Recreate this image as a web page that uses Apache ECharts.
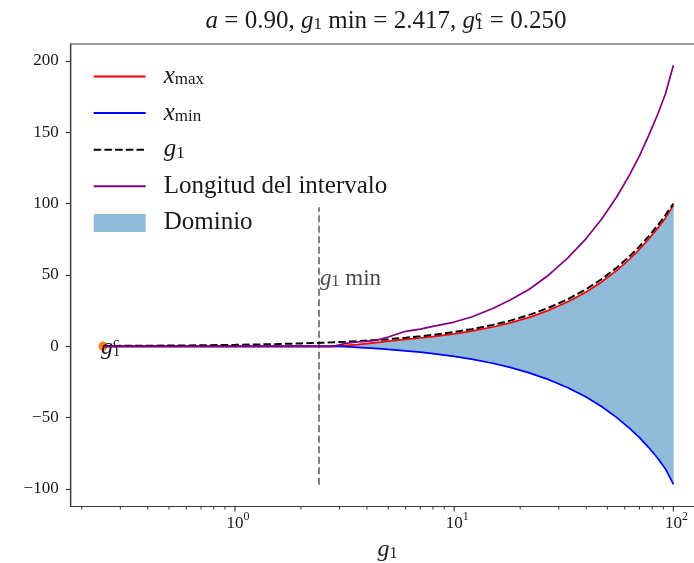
<!DOCTYPE html>
<html><head><meta charset="utf-8">
<script src="https://cdn.jsdelivr.net/npm/echarts@6/dist/echarts.min.js"></script>
<style>html,body{margin:0;padding:0;background:#fff}#c{width:694px;height:563px}</style>
</head><body><div id="c"></div>
<script>
// ---- data ----
const g1Values     = [0.25, 0.4, 0.6, 1, 1.5, 2, 2.417, 2.8, 3.2, 3.6, 4, 4.5, 5, 6, 7, 8, 10, 12, 15, 18, 22, 27, 33, 40, 47, 55, 63, 70, 77, 85, 92, 100];
const g1LineValues = [0.25, 0.4, 0.6, 1, 1.5, 2, 2.417, 2.8, 3.2, 3.6, 4, 4.5, 5, 6, 7, 8, 10, 12, 15, 18, 22, 27, 33, 40, 47, 55, 63, 70, 77, 85, 92, 100];
const xMaxValues   = [0, 0, 0, 0, 0, 0, 0, 0, 0.6, 1.2, 1.9, 2.8, 3.6, 4.8, 5.8, 6.8, 8.7, 10.6, 13.5, 16.4, 20.3, 25.2, 31.2, 38.1, 45.1, 53, 61, 68, 75, 83, 90, 98.8];
const xMinValues   = [0, 0, 0, 0, 0, 0, 0, 0, -0.3, -0.7, -1.1, -1.6, -2.2, -3.2, -4.1, -5.1, -7.1, -9.0, -11.9, -14.8, -18.6, -23.4, -29, -35.6, -42.2, -49.8, -57.4, -64, -70.8, -78.6, -86, -96.7];
const lengthValues = [0, 0, 0, 0, 0, 0, 0, 0, 2, 3, 3.5, 4.5, 6.5, 10.5, 12, 14, 17, 20.5, 26.5, 32.5, 40, 50, 62, 75.5, 89, 104.5, 120, 133.5, 147.5, 163, 177, 197];
const g1Min = 2.417;
const vlineRange = [-97, 97.5];
const g1cPoint = [0.25, 0];
const g1MinLabelY = 47;
const yTicks = [-100, -50, 0, 50, 100, 150, 200];
const xMajorTicks = [1, 10, 100];
const xMajorExp = ['0', '1', '2'];
const xMinorTicks = [0.2, 0.3, 0.4, 0.5, 0.6, 0.7, 0.8, 0.9, 2, 3, 4, 5, 6, 7, 8, 9, 20, 30, 40, 50, 60, 70, 80, 90];
const X_MIN = 0.17808, X_MAX = 138.04;
const Y_MIN = -112.3, Y_MAX = 211.9;

const SERIF = '"Liberation Serif", "DejaVu Serif", serif';
const AX = '#3a3a3a';
const TXT = '#1a1a1a';
const FILL = '#8fbbd9';
const zip = (a, b) => a.map((v, i) => [v, b[i]]);

const chart = echarts.init(document.getElementById('c'), null, {renderer: 'canvas'});
const option = {
  animation: false,
  backgroundColor: '#fff',
  graphic: [{
    type: 'text', x: 386, y: 21, z: 10,
    style: {
      text: '{i|a} = 0.90, {i|g}{s|1} min = 2.417, {i|g}{p|c}{q|1} = 0.250',
      align: 'center', verticalAlign: 'middle', fill: TXT,
      fontSize: 25, fontFamily: SERIF,
      rich: {
        i: {fontStyle: 'italic', fontSize: 25, fontFamily: SERIF, lineHeight: 24},
        s: {fontSize: 17, fontFamily: SERIF, lineHeight: 12, verticalAlign: 'bottom'},
        p: {fontSize: 16, fontFamily: SERIF, lineHeight: 12, verticalAlign: 'top'},
        q: {fontSize: 17, fontFamily: SERIF, lineHeight: 12, verticalAlign: 'bottom', padding: [0, 0, 0, -7]}
      }
    }
  }],
  grid: {left: 70.7, top: 44, width: 633.4, height: 462.5, show: true, borderColor: AX, borderWidth: 1.2,
         backgroundColor: 'transparent', containLabel: false, outerBoundsMode: 'none'},
  legend: {
    orient: 'vertical', left: 92.7, top: 64, padding: 0, itemGap: 11.6,
    itemWidth: 52, itemHeight: 18,
    itemStyle: {color: 'rgba(0,0,0,0)', borderWidth: 0, opacity: 0},
    data: ['x_max', 'x_min', 'g_1', 'Longitud del intervalo',
           {name: 'Dominio', icon: 'rect', itemStyle: {color: FILL, opacity: 1, borderWidth: 0}}],
    formatter: name => ({'x_max': '{i|x}{sub|max}', 'x_min': '{i|x}{sub|min}', 'g_1': '{i|g}{sub|1}'}[name] || '{n|' + name + '}'),
    textStyle: {
      fontFamily: SERIF, fontSize: 25, lineHeight: 24, color: TXT, padding: [0, 0, 0, 13],
      rich: {
        i: {fontStyle: 'italic', fontSize: 25, lineHeight: 24, fontFamily: SERIF, color: TXT},
        sub: {fontSize: 17, lineHeight: 12, verticalAlign: 'bottom', fontFamily: SERIF, color: TXT},
        n: {fontSize: 25, lineHeight: 24, fontFamily: SERIF, color: TXT}
      }
    }
  },
  xAxis: {
    type: 'log', logBase: 10, min: X_MIN, max: X_MAX,
    axisLine: {show: true, onZero: false, lineStyle: {color: AX, width: 1.2}},
    axisTick: {show: false}, axisLabel: {show: false}, splitLine: {show: false},
    name: '{i|g}{s|1}', nameLocation: 'middle', nameGap: 31,
    nameTextStyle: {
      fontFamily: SERIF, fontSize: 24, color: TXT,
      rich: {
        i: {fontStyle: 'italic', fontSize: 24, lineHeight: 24, fontFamily: SERIF, color: TXT},
        s: {fontSize: 16, lineHeight: 12, verticalAlign: 'bottom', fontFamily: SERIF, color: TXT}
      }
    }
  },
  yAxis: {
    type: 'value', min: Y_MIN, max: Y_MAX,
    axisLine: {show: true, onZero: false, lineStyle: {color: AX, width: 1.2}},
    axisTick: {show: true, customValues: yTicks, length: 5, lineStyle: {color: AX, width: 1.2}},
    axisLabel: {customValues: yTicks, margin: 12, fontFamily: SERIF, fontSize: 17, color: TXT,
      formatter: v => String(v).replace('-', '\u2212')},
    splitLine: {show: false}
  },
  series: [
    {name: 'Dominio', type: 'custom', coordinateSystem: 'cartesian2d', silent: true, z: 1,
     itemStyle: {color: FILL}, data: [[g1Values[0], 0]],
     renderItem: (params, api) => {
       const pts = [];
       for (let i = 0; i < g1Values.length; i++) pts.push(api.coord([g1Values[i], xMaxValues[i]]));
       for (let i = g1Values.length - 1; i >= 0; i--) pts.push(api.coord([g1Values[i], xMinValues[i]]));
       return {type: 'polygon', shape: {points: pts}, style: {fill: FILL, stroke: FILL, lineWidth: 0.5}};
     }},
    {name: 'x_max', type: 'line', data: zip(g1Values, xMaxValues), symbol: 'none', color: '#ff0000',
     lineStyle: {color: '#ff0000', width: 1.7}, z: 3},
    {name: 'x_min', type: 'line', data: zip(g1Values, xMinValues), symbol: 'none', color: '#0000ff',
     lineStyle: {color: '#0000ff', width: 1.7}, z: 3},
    {name: 'g_1', type: 'line', data: zip(g1Values, g1LineValues), symbol: 'none', color: '#000000',
     lineStyle: {color: '#000000', width: 2, type: [7.5, 3.2]}, z: 4},
    {name: 'Longitud del intervalo', type: 'line', data: zip(g1Values, lengthValues), symbol: 'none', color: '#800080',
     lineStyle: {color: '#800080', width: 1.7}, z: 5},
    {name: '_vline', type: 'line', data: [[g1Min, vlineRange[0]], [g1Min, vlineRange[1]]], symbol: 'none',
     lineStyle: {color: '#808080', width: 2, type: [7, 3.5]}, silent: true, z: 2},
    {name: '_g1c', type: 'scatter', data: [g1cPoint], symbolSize: 9, itemStyle: {color: '#ff7f0e', opacity: 1}, z: 2,
     label: {show: true, position: [2.5, -6], align: 'left', verticalAlign: 'top',
       formatter: () => '{i|g}{p|c}{q|1}',
       rich: {
         i: {fontStyle: 'italic', fontSize: 24, lineHeight: 24, fontFamily: SERIF, color: TXT},
         p: {fontSize: 15, lineHeight: 12, verticalAlign: 'top', fontFamily: SERIF, color: TXT},
         q: {fontSize: 15, lineHeight: 12, verticalAlign: 'bottom', fontFamily: SERIF, color: TXT, padding: [0, 0, 0, -7]}
       }}},
    {name: '_g1minlabel', type: 'scatter', data: [[g1Min, g1MinLabelY]], symbolSize: 0, silent: true, z: 6,
     label: {show: true, position: 'right', distance: 1,
       formatter: () => '{i|g}{s|1}{n| min}',
       rich: {
         i: {fontStyle: 'italic', fontSize: 23, lineHeight: 22, fontFamily: SERIF, color: TXT},
         s: {fontSize: 16, lineHeight: 11, verticalAlign: 'bottom', fontFamily: SERIF, color: TXT},
         n: {fontSize: 23, lineHeight: 22, fontFamily: SERIF, color: TXT}
       }}},
    {name: '_xmajor', type: 'custom', coordinateSystem: 'cartesian2d', clip: false, silent: true, z: 6,
     data: xMajorTicks.map((v, i) => [v, Y_MIN, i]),
     renderItem: (params, api) => {
       const p = api.coord([api.value(0), api.value(1)]);
       const idx = api.value(2);
       return {type: 'group', children: [
         {type: 'line', shape: {x1: p[0], y1: p[1], x2: p[0], y2: p[1] + 5}, style: {stroke: AX, lineWidth: 1.2}},
         {type: 'text', x: p[0] + 3, y: p[1] + 4, style: {
           text: '{b|10}{e|' + xMajorExp[idx] + '}', align: 'center', verticalAlign: 'top', fill: TXT,
           rich: {b: {fontSize: 17, fontFamily: SERIF, lineHeight: 22, verticalAlign: 'bottom'},
                  e: {fontSize: 12, fontFamily: SERIF, lineHeight: 12, verticalAlign: 'top'}}}}
       ]};
     }},
    {name: '_xminor', type: 'custom', coordinateSystem: 'cartesian2d', clip: false, silent: true, z: 6,
     data: xMinorTicks.map(v => [v, Y_MIN]),
     renderItem: (params, api) => {
       const p = api.coord([api.value(0), api.value(1)]);
       return {type: 'line', shape: {x1: p[0], y1: p[1], x2: p[0], y2: p[1] + 3}, style: {stroke: AX, lineWidth: 1}};
     }}
  ]
};
chart.setOption(option);
</script></body></html>
